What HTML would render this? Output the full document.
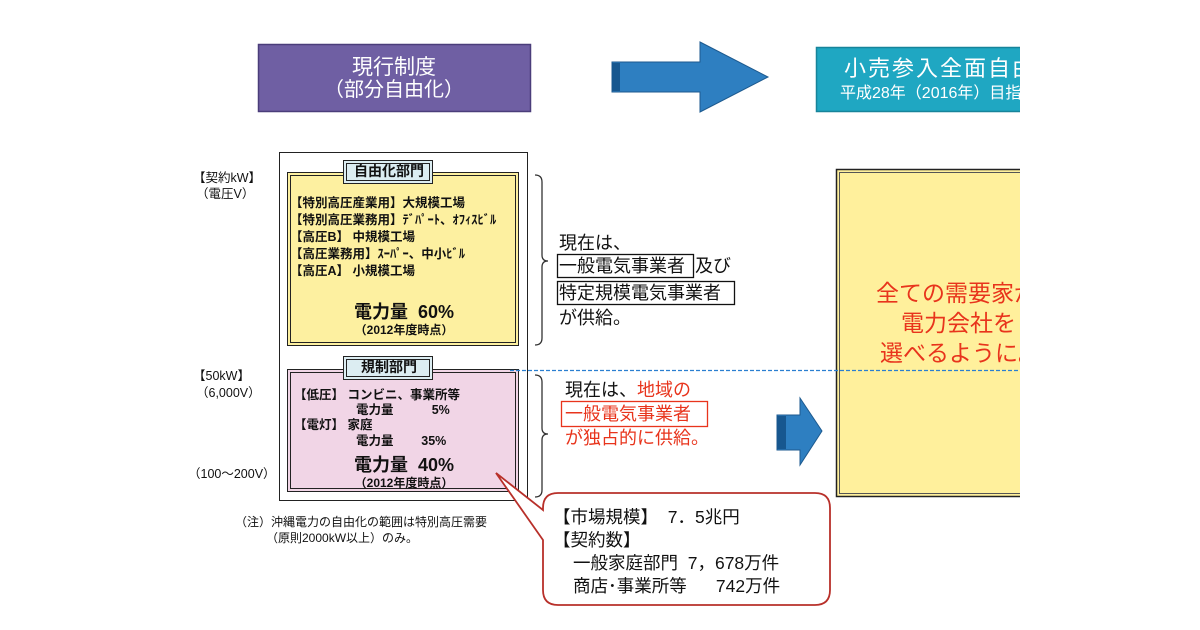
<!DOCTYPE html>
<html><head><meta charset="utf-8">
<style>
body{margin:0;width:1200px;height:630px;background:#fff;position:relative;overflow:hidden;font-family:"Liberation Sans","Noto Sans CJK JP",sans-serif;color:#111}
.a{position:absolute;white-space:nowrap;line-height:1}
.b{font-weight:bold}
</style></head><body>
<svg width="1200" height="630" style="position:absolute;left:0;top:0">
<rect x="258.5" y="44.5" width="272" height="67" fill="#6f5fa3" stroke="#4a3d7a" stroke-width="1.5"/>
<polygon points="612,62 700,62 700,42 768,77 700,112 700,92 612,92" fill="#2e7fc1" stroke="#1d5a8f" stroke-width="1"/>
<rect x="612" y="63" width="8" height="28" fill="#17578f"/>
<rect x="816.5" y="47.5" width="210" height="64" fill="#1fa7c2" stroke="#17849a" stroke-width="1.5"/>
<rect x="279.5" y="152.5" width="248" height="348" fill="none" stroke="#222" stroke-width="1"/>
<rect x="287.5" y="172.5" width="231" height="173" fill="#fdf0a0" stroke="#222" stroke-width="1"/>
<rect x="290.5" y="175.5" width="225" height="167" fill="none" stroke="#222" stroke-width="1"/>
<rect x="343.5" y="160.5" width="89" height="23" fill="#dcedf2" stroke="#222" stroke-width="1"/>
<rect x="346.5" y="163.5" width="83" height="17" fill="none" stroke="#222" stroke-width="1"/>
<rect x="287.5" y="369.5" width="231" height="122" fill="#f1d5e6" stroke="#222" stroke-width="1"/>
<rect x="290.5" y="372.5" width="225" height="116" fill="none" stroke="#222" stroke-width="1"/>
<rect x="343.5" y="356.5" width="89" height="23" fill="#dcedf2" stroke="#222" stroke-width="1"/>
<rect x="346.5" y="359.5" width="83" height="17" fill="none" stroke="#222" stroke-width="1"/>
<path d="M535,175 Q542,175 542,182 L542,255 Q542,261 548,261 Q542,261 542,267 L542,338 Q542,345 535,345" fill="none" stroke="#333" stroke-width="1.3"/>
<path d="M535,375 Q542,375 542,382 L542,428 Q542,434 548,434 Q542,434 542,440 L542,490 Q542,497 535,497" fill="none" stroke="#333" stroke-width="1.3"/>
<rect x="836.5" y="169.5" width="190" height="327" fill="#fff09c" stroke="#222" stroke-width="1.5"/>
<rect x="839.5" y="172.5" width="190" height="321" fill="none" stroke="#555" stroke-width="1"/>
<line x1="510" y1="370.5" x2="1020" y2="370.5" stroke="#2b7fd0" stroke-width="1.2" stroke-dasharray="4,2"/>
<polygon points="777,415 800,415 800,398 822,431 800,465 800,450 777,450" fill="#2e7fc1" stroke="#1d5a8f" stroke-width="1"/>
<rect x="777" y="416" width="9" height="33" fill="#17578f"/>
<rect x="557.5" y="254.5" width="136" height="23" fill="none" stroke="#111" stroke-width="1.3"/>
<rect x="557.5" y="281.5" width="177" height="23" fill="none" stroke="#111" stroke-width="1.3"/>
<rect x="561.5" y="401.5" width="146" height="25" fill="none" stroke="#e8341c" stroke-width="1.3"/>
<path d="M558,493 L815,493 Q830,493 830,508 L830,590 Q830,605 815,605 L558,605 Q543,605 543,590 L543,540 L496,473 L543,510 L543,508 Q543,493 558,493 Z" fill="#fff" stroke="#b8302a" stroke-width="1.8"/>
<rect x="1020" y="0" width="180" height="630" fill="#fff"/>
</svg>
<div class="a" style="left:258px;width:272px;text-align:center;top:57px;font-size:21px;color:#fff">現行制度</div>
<div class="a" style="left:258px;width:272px;text-align:center;top:80px;font-size:20px;color:#fff">（部分自由化）</div>
<div style="position:absolute;left:816px;top:47px;width:204px;height:70px;overflow:hidden">
<div class="a" style="left:28px;top:11px;font-size:22px;color:#fff;letter-spacing:2px">小売参入全面自由化</div>
<div class="a" style="left:24px;top:39px;font-size:16px;color:#fff">平成28年（2016年）目指す</div>
</div>
<div class="a b" style="left:346px;width:86px;text-align:center;top:164px;font-size:14px">自由化部門</div>
<div class="a b" style="left:346px;width:86px;text-align:center;top:360px;font-size:14px">規制部門</div>
<div class="a" style="left:193px;top:172px;font-size:12.5px">【契約kW】</div>
<div class="a" style="left:196px;top:188px;font-size:12.5px">（電圧V）</div>
<div class="a" style="left:193px;top:370px;font-size:12.5px">【50kW】</div>
<div class="a" style="left:196px;top:387px;font-size:12.5px">（6,000V）</div>
<div class="a" style="left:188px;top:468px;font-size:12.5px">（100～200V）</div>
<div class="a" style="left:290px;top:195px;font-size:12.5px;line-height:17px;font-weight:600">【特別高圧産業用】大規模工場<br>【特別高圧業務用】ﾃﾞﾊﾟｰﾄ、ｵﾌｨｽﾋﾞﾙ<br>【高圧B】 中規模工場<br>【高圧業務用】ｽｰﾊﾟｰ、中小ﾋﾞﾙ<br>【高圧A】 小規模工場</div>
<div class="a b" style="left:290px;width:228px;text-align:center;top:303px;font-size:18px">電力量&nbsp; 60%</div>
<div class="a b" style="left:290px;width:228px;text-align:center;top:324px;font-size:12px">（2012年度時点）</div>
<div class="a" style="left:294px;top:389px;font-size:12.5px;font-weight:600">【低圧】 コンビニ、事業所等</div>
<div class="a" style="left:356px;top:404px;font-size:12.5px;font-weight:600">電力量&nbsp;&nbsp;&nbsp;&nbsp;&nbsp;&nbsp;&nbsp;&nbsp;&nbsp;&nbsp; 5%</div>
<div class="a" style="left:294px;top:419px;font-size:12.5px;font-weight:600">【電灯】 家庭</div>
<div class="a" style="left:356px;top:435px;font-size:12.5px;font-weight:600">電力量&nbsp;&nbsp;&nbsp;&nbsp;&nbsp;&nbsp;&nbsp; 35%</div>
<div class="a b" style="left:290px;width:228px;text-align:center;top:456px;font-size:18px">電力量&nbsp; 40%</div>
<div class="a b" style="left:290px;width:228px;text-align:center;top:477px;font-size:12px">（2012年度時点）</div>
<div class="a" style="left:235px;top:516px;font-size:12px">（注）沖縄電力の自由化の範囲は特別高圧需要</div>
<div class="a" style="left:266px;top:532px;font-size:12px">（原則2000kW以上）のみ。</div>
<div class="a" style="left:559px;top:234px;font-size:18px">現在は、</div>
<div class="a" style="left:559px;top:257px;font-size:18px">一般電気事業者&nbsp; 及び</div>
<div class="a" style="left:559px;top:284px;font-size:18px">特定規模電気事業者</div>
<div class="a" style="left:559px;top:309px;font-size:18px">が供給。</div>
<div class="a" style="left:565px;top:381px;font-size:18px">現在は、<span style="color:#e8341c">地域の</span></div>
<div class="a" style="left:565px;top:405px;font-size:18px;color:#e8341c">一般電気事業者</div>
<div class="a" style="left:565px;top:429px;font-size:18px;color:#e8341c">が独占的に供給。</div>
<div style="position:absolute;left:840px;top:270px;width:180px;height:100px;overflow:hidden;color:#e8341c;font-size:23px">
<div class="a" style="left:36px;top:12px">全ての需要家が</div>
<div class="a" style="left:61px;top:42px">電力会社を</div>
<div class="a" style="left:40px;top:72px">選べるように。</div>
</div>
<div class="a" style="left:553px;top:509px;font-size:17.5px">【市場規模】&nbsp; 7．5兆円</div>
<div class="a" style="left:553px;top:532px;font-size:17.5px">【契約数】</div>
<div class="a" style="left:573px;top:555px;font-size:17.5px">一般家庭部門&nbsp; 7，678万件</div>
<div class="a" style="left:573px;top:578px;font-size:17.5px">商店･事業所等&nbsp;&nbsp;&nbsp;&nbsp;&nbsp; 742万件</div>
</body></html>
